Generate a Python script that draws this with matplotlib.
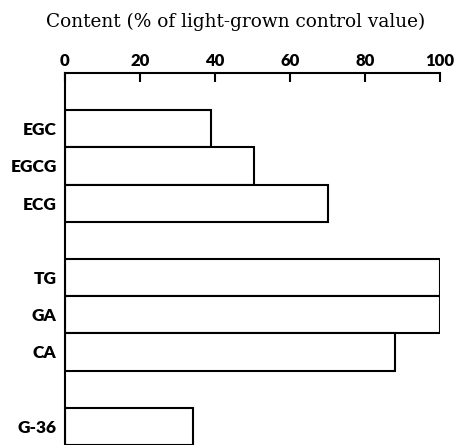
import numpy as np
import matplotlib.pyplot as plt

compounds = ['EGC', 'EGCG', 'ECG', 'TG', 'GA', 'CA', 'G-36']
content = [39, 50.5, 70, 100, 100, 88, 34]
slots = [0, 1, 2, 4, 5, 6, 8]
xticks = [0, 20, 40, 60, 80, 100]

fig = plt.figure(figsize=(4.54, 4.45), dpi=100)
ax = fig.add_axes([65 / 454, 0.0, 375 / 454, 1 - 73 / 445])

ax.barh(slots, content, height=1.0, color='white', edgecolor='black', linewidth=1.5)

ax.set_xlim(0, 100)
ax.set_ylim(8.5, -1.5)

ax.spines['right'].set_visible(False)
ax.spines['bottom'].set_visible(False)
ax.spines['top'].set_linewidth(1.5)
ax.spines['left'].set_linewidth(1.5)

ax.xaxis.tick_top()
ax.set_xticks(xticks)
ax.set_xticklabels([str(v) for v in xticks], fontfamily='Lato', fontweight='heavy', fontsize=12)
ax.tick_params(axis='x', direction='in', length=6.5, width=1.5, pad=3)

ax.set_yticks(slots)
ax.set_yticklabels(compounds, fontfamily='Lato', fontweight='heavy', fontsize=12.5)
ax.tick_params(axis='y', length=0, pad=6)

fig.text(236 / 454, 1 - 22 / 445, 'Content (% of light-grown control value)',
         ha='center', va='center', fontfamily='DejaVu Serif', fontsize=13.3)

fig.savefig('out.png', dpi=100)
